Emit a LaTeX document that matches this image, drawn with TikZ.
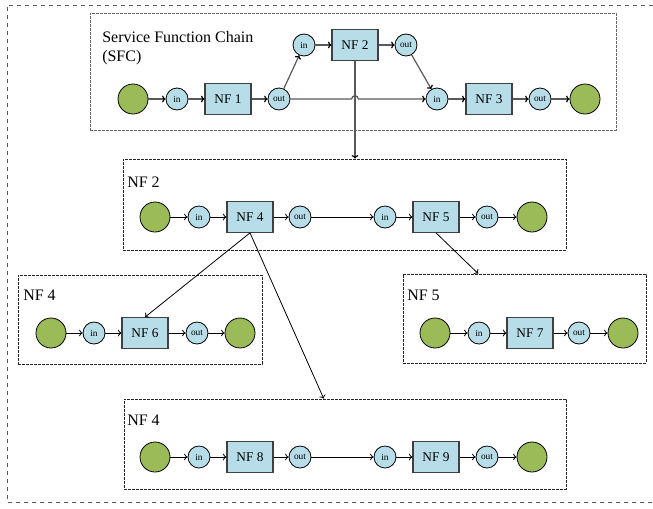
\documentclass[tikz,border=0pt]{standalone}
\usepackage{fontspec}
\setmainfont{Liberation Serif}
\usetikzlibrary{calc,fit,arrows.meta}
\definecolor{nfgreen}{HTML}{9BBB59}
\definecolor{nfblue}{HTML}{B7DEE8}
\definecolor{linegray}{HTML}{595959}

\begin{document}
\begin{tikzpicture}[x=0.75pt,y=-0.75pt,
  endpt/.style={circle,draw=black,fill=nfgreen,minimum size=22.5pt,inner sep=0pt,line width=0.6pt},
  port/.style={circle,draw=black,fill=nfblue,minimum size=16.5pt,inner sep=0pt,font=\fontsize{7}{8}\selectfont,line width=0.6pt},
  nfbox/.style={rectangle,draw=black!75,fill=nfblue,minimum width=34.5pt,minimum height=23pt,inner sep=0pt,font=\fontsize{10}{12}\selectfont,line width=0.8pt},
  group/.style={draw=black!85,dash pattern=on 2pt off 1pt,line width=0.6pt,inner sep=0pt},
  sfcgroup/.style={group,draw=black!60},
  outer/.style={draw=black!65,dashed,line width=0.7pt},
  title/.style={anchor=north west,inner sep=0pt,font=\fontsize{12}{14.5}\selectfont,align=left},
  link/.style={-{To[length=2.6pt,width=5pt]},line width=0.6pt},
  sfclink/.style={-{To[length=2.6pt,width=5pt,color=black]},draw=linegray,line width=0.9pt}
]
\useasboundingbox (0,0) rectangle (653,508);

% outer frame, open on the right
\draw[outer] (653,5) -- (7,5) -- (7,502) -- (653,502);

% group frames
\node[sfcgroup,fit={(90,13) (616,130)}] (g0) {};
\node[group,fit={(123,159) (566,250)}] (g2) {};
\node[group,fit={(18,275) (262,364)}] (g4a) {};
\node[group,fit={(403,274) (646,363)}] (g5) {};
\node[group,fit={(124,399) (566,489)}] (g4b) {};

% titles
\node[title] (t0) at (102,31) {Service Function Chain\\(SFC)};
\node[title] (t2) at (127,177) {NF 2};
\node[title] (t4a) at (23,290) {NF 4};
\node[title] (t5) at (407,290) {NF 5};
\node[title] (t4b) at (127,415) {NF 4};

% service function chain
\node[endpt] (s0) at (133,99) {};
\node[port] (si1) at (177,99) {in};
\node[nfbox] (nf1) at (228,99) {NF 1};
\node[port] (so1) at (279,99) {out};
\node[port] (si2) at (304,45) {in};
\node[nfbox] (nf2) at (355,45) {NF 2};
\node[port] (so2) at (406,45) {out};
\node[port] (si3) at (437,99) {in};
\node[nfbox] (nf3) at (489,99) {NF 3};
\node[port] (so3) at (540,99) {out};
\node[endpt] (s1) at (585,99) {};

\draw[sfclink] (s0) -- (si1);
\draw[sfclink] (si1) -- (nf1);
\draw[sfclink] (nf1) -- (so1);
\draw[sfclink] (so1) -- (si2);
\draw[sfclink] (si2) -- (nf2);
\draw[sfclink] (nf2) -- (so2);
\draw[sfclink] (so2) -- (si3);
\draw[sfclink] (so1) -- ([xshift=-2.5pt]nf2.south |- so1.east)
  arc[start angle=180,end angle=0,radius=2.5pt] -- (si3);
\draw[sfclink] (si3) -- (nf3);
\draw[sfclink] (nf3) -- (so3);
\draw[sfclink] (so3) -- (s1);
\draw[sfclink] (nf2.south) -- (nf2.south |- g2.north);

% NF 2 expanded
\node[endpt] (a0) at (155,217) {};
\node[port] (ai1) at (199,217) {in};
\node[nfbox] (nf4) at (250,217) {NF 4};
\node[port] (ao1) at (300,217) {out};
\node[port] (ai2) at (385,217) {in};
\node[nfbox] (nf5) at (436,217) {NF 5};
\node[port] (ao2) at (487,217) {out};
\node[endpt] (a1) at (532,217) {};
\foreach \p/\q in {a0/ai1,ai1/nf4,nf4/ao1,ao1/ai2,ai2/nf5,nf5/ao2,ao2/a1}
  \draw[link] (\p) -- (\q);

% NF 4 expanded (left)
\node[endpt] (b0) at (51,333) {};
\node[port] (bi1) at (94,333) {in};
\node[nfbox] (nf6) at (145,333) {NF 6};
\node[port] (bo1) at (197,333) {out};
\node[endpt] (b1) at (240,333) {};
\foreach \p/\q in {b0/bi1,bi1/nf6,nf6/bo1,bo1/b1}
  \draw[link] (\p) -- (\q);

% NF 5 expanded
\node[endpt] (c0) at (435,333) {};
\node[port] (ci1) at (479,333) {in};
\node[nfbox] (nf7) at (530,333) {NF 7};
\node[port] (co1) at (579,333) {out};
\node[endpt] (c1) at (623,333) {};
\foreach \p/\q in {c0/ci1,ci1/nf7,nf7/co1,co1/c1}
  \draw[link] (\p) -- (\q);

% NF 4 expanded (lower)
\node[endpt] (d0) at (155,457) {};
\node[port] (di1) at (199,457) {in};
\node[nfbox] (nf8) at (250,457) {NF 8};
\node[port] (do1) at (300,457) {out};
\node[port] (di2) at (385,457) {in};
\node[nfbox] (nf9) at (436,457) {NF 9};
\node[port] (do2) at (487,457) {out};
\node[endpt] (d1) at (532,457) {};
\foreach \p/\q in {d0/di1,di1/nf8,nf8/do1,do1/di2,di2/nf9,nf9/do2,do2/d1}
  \draw[link] (\p) -- (\q);

% expansion arrows
\coordinate (g4bin) at ($(g4b.north west)!0.452!(g4b.north east)$);
\coordinate (g5in) at ($(g5.north west)!0.31!(g5.north east)$);
\draw[link] (nf4.south) -- (nf6.north);
\draw[link] (nf4.south) -- (g4bin);
\draw[link] (nf5.south) -- (g5in);
\end{tikzpicture}
\end{document}
